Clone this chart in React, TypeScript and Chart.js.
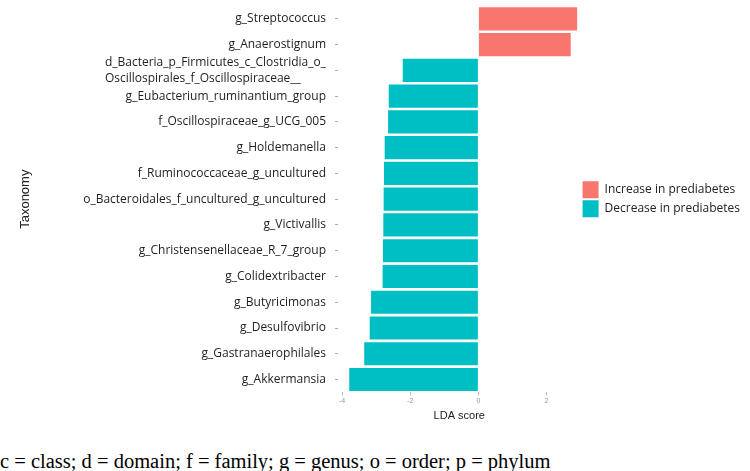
import React, { useEffect, useRef } from 'react';
import { Chart, registerables } from 'chart.js';

Chart.register(...registerables);

// ---- data (top to bottom as shown) ----
const taxa: (string | string[])[] = [
  'g_Streptococcus',
  'g_Anaerostignum',
  ['d_Bacteria_p_Firmicutes_c_Clostridia_o_', 'Oscillospirales_f_Oscillospiraceae__'],
  'g_Eubacterium_ruminantium_group',
  'f_Oscillospiraceae_g_UCG_005',
  'g_Holdemanella',
  'f_Ruminococcaceae_g_uncultured',
  'o_Bacteroidales_f_uncultured_g_uncultured',
  'g_Victivallis',
  'g_Christensenellaceae_R_7_group',
  'g_Colidextribacter',
  'g_Butyricimonas',
  'g_Desulfovibrio',
  'g_Gastranaerophilales',
  'g_Akkermansia',
];

const ldaScores: number[] = [
  2.90, 2.71, -2.22, -2.63, -2.65, -2.75, -2.77, -2.78, -2.79, -2.80, -2.81, -3.15, -3.19, -3.35, -3.79,
];

const increaseValues = ldaScores.map((v) => (v > 0 ? v : null));
const decreaseValues = ldaScores.map((v) => (v < 0 ? v : null));

const xTickValues: number[] = [-4, -2, 0, 2];

const seriesNames = ['Increase in prediabetes', 'Decrease in prediabetes'];
const seriesColors = ['#F8766D', '#00BFC4'];
const footnote = 'c = class; d = domain; f = family; g = genus; o = order; p = phylum';

const LABEL_FONT = '12px "Open Sans"';

const yLabelPlugin = {
  id: 'yLabels',
  afterDraw(chart: any) {
    const scale = chart.scales.y;
    const ctx = chart.ctx;
    ctx.save();
    ctx.font = LABEL_FONT;
    ctx.fillStyle = '#1e1e1e';
    ctx.textBaseline = 'middle';
    const right = scale.right - 12;
    taxa.forEach((lbl, i) => {
      const y = scale.getPixelForTick(i);
      const lines = Array.isArray(lbl) ? lbl : [lbl];
      const maxW = Math.max(...lines.map((l) => ctx.measureText(l).width));
      const lh = 16;
      lines.forEach((line, j) => {
        const ly = y + (j - (lines.length - 1) / 2) * lh;
        if (lines.length > 1) {
          ctx.textAlign = 'left';
          ctx.fillText(line, right - maxW, ly);
        } else {
          ctx.textAlign = 'right';
          ctx.fillText(line, right, ly);
        }
      });
    });
    ctx.restore();
  },
};

export default function App() {
  const ref = useRef<HTMLCanvasElement | null>(null);

  useEffect(() => {
    if (!ref.current) return;
    const chart = new Chart(ref.current, {
      type: 'bar',
      data: {
        labels: taxa as any,
        datasets: [
          {
            label: seriesNames[0],
            data: increaseValues as any,
            backgroundColor: seriesColors[0],
            barPercentage: 0.9,
            categoryPercentage: 1,
            grouped: false,
          } as any,
          {
            label: seriesNames[1],
            data: decreaseValues as any,
            backgroundColor: seriesColors[1],
            barPercentage: 0.9,
            categoryPercentage: 1,
            grouped: false,
          } as any,
        ],
      },
      options: {
        indexAxis: 'y',
        animation: false,
        responsive: true,
        maintainAspectRatio: false,
        layout: { padding: { top: 6, right: 0, bottom: 3, left: 0 } },
        plugins: {
          tooltip: { enabled: false },
          legend: {
            position: 'right',
            fullSize: false,
            labels: {
              boxWidth: 16,
              boxHeight: 17,
              padding: 2,
              color: '#222',
              font: { family: '"Open Sans"', size: 12 },
            },
          },
        },
        scales: {
          x: {
            type: 'linear',
            min: -4.12,
            max: 3.0,
            afterBuildTicks: (scale: any) => {
              scale.ticks = xTickValues.map((v) => ({ value: v }));
            },
            ticks: {
              color: '#999',
              font: { family: '"Liberation Sans"', size: 7 },
              padding: 1,
              maxRotation: 0,
            },
            grid: {
              drawOnChartArea: false,
              drawTicks: true,
              tickLength: 3,
              color: '#bbb',
            },
            border: { display: false },
            title: {
              display: true,
              text: 'LDA score',
              color: '#222',
              font: { family: '"Liberation Sans"', size: 11 },
              padding: { top: 4, bottom: 4 },
            },
          },
          y: {
            type: 'category',
            offset: true,
            ticks: { display: false },
            afterFit: (scale: any) => {
              scale.width = 338;
            },
            grid: {
              drawOnChartArea: false,
              drawTicks: true,
              tickLength: 3,
              offset: false,
              color: '#aaa',
            },
            border: { display: false },
            title: {
              display: true,
              text: 'Taxonomy',
              color: '#222',
              font: { family: '"Liberation Sans"', size: 13 },
              padding: { top: 18, bottom: 0 },
            },
          },
        },
      },
      plugins: [yLabelPlugin],
    });
    return () => chart.destroy();
  }, []);

  return (
    <div style={{ position: 'absolute', left: 0, top: 0, width: 750, height: 471, background: '#fff' }}>
      <div style={{ position: 'absolute', left: 0, top: 0, width: 750, height: 430 }}>
        <canvas ref={ref} />
      </div>
      <div
        style={{
          position: 'absolute',
          left: 0,
          top: 451,
          fontFamily: '"Liberation Serif", "Times New Roman", serif',
          fontSize: 20.5,
          lineHeight: '20px',
          whiteSpace: 'nowrap',
          color: '#000',
        }}
      >
        {footnote}
      </div>
    </div>
  );
}
